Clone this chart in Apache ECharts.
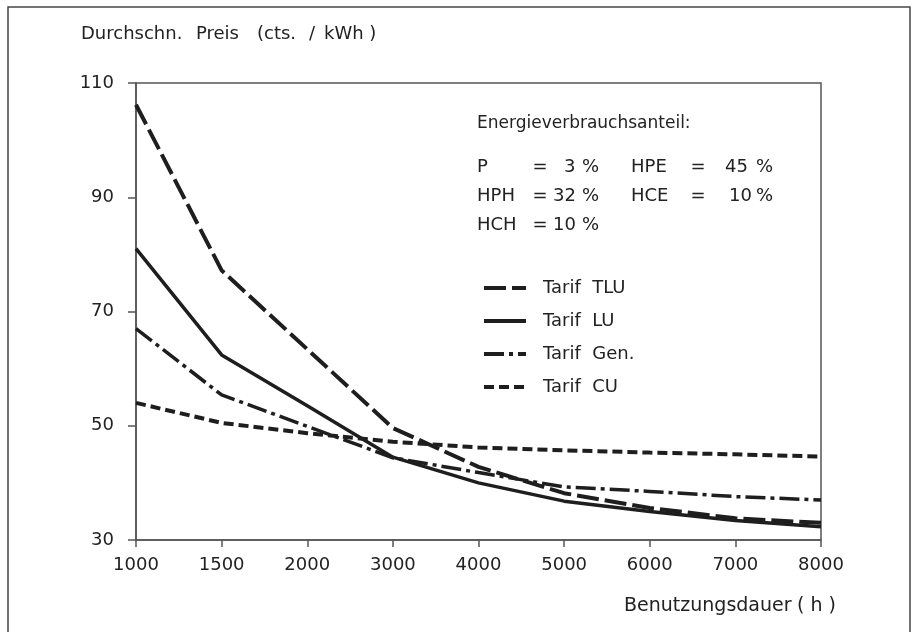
<!DOCTYPE html>
<html>
<head>
<meta charset="utf-8">
<script src="https://cdn.jsdelivr.net/npm/echarts@6/dist/echarts.min.js"></script>
<style>
  html, body { margin: 0; padding: 0; background: #fff; }
  #chart { width: 914px; height: 632px; }
</style>
</head>
<body>
<div id="chart"></div>
<script>
// Data
const categories = ['1000', '1500', '2000', '3000', '4000', '5000', '6000', '7000', '8000'];
const tarifTLU = [106.2, 77.2, 63.4, 49.6, 42.8, 38.2, 35.6, 33.8, 33.0];
const tarifLU  = [81.0, 62.4, 53.5, 44.5, 40.0, 36.8, 35.0, 33.4, 32.3];
const tarifGen = [67.0, 55.4, 49.9, 44.4, 41.8, 39.3, 38.5, 37.6, 37.0];
const tarifCU  = [54.0, 50.5, 48.7, 47.2, 46.2, 45.7, 45.3, 45.0, 44.6];
const seriesNames = ['Tarif  TLU', 'Tarif  LU', 'Tarif  Gen.', 'Tarif  CU'];
const yTicks = [30, 50, 70, 90, 110];

const FONT = 'DejaVu Sans';
const INK = '#1e1e1e';
const TXT = '#222';

const chart = echarts.init(document.getElementById('chart'), null, { renderer: 'canvas' });

function txt(x, y, text, align, size) {
  return {
    type: 'text', x: x, y: y, silent: true,
    style: { text: text, font: (size || 18) + 'px "' + FONT + '"', fill: TXT, align: align || 'left', verticalAlign: 'middle' }
  };
}

const option = {
  animation: false,
  backgroundColor: '#fff',
  color: [INK, INK, INK, INK],
  grid: { left: 136, right: 93, top: 83, bottom: 92, show: true, borderColor: '#555', borderWidth: 1.5 },
  xAxis: {
    type: 'category', data: categories, boundaryGap: false,
    axisLine: { lineStyle: { color: '#555', width: 1.5 } },
    axisTick: { show: true, length: 7, inside: false, lineStyle: { color: '#555', width: 1.5 } },
    axisLabel: { color: TXT, fontFamily: FONT, fontSize: 18, margin: 16, interval: 0 },
    splitLine: { show: false }
  },
  yAxis: {
    type: 'value', min: yTicks[0], max: yTicks[yTicks.length - 1], interval: 20,
    axisLine: { show: true, lineStyle: { color: '#555', width: 1.5 } },
    axisTick: { show: true, length: 8, lineStyle: { color: '#555', width: 1.5 } },
    axisLabel: { color: TXT, fontFamily: FONT, fontSize: 18, margin: 22 },
    splitLine: { show: false }
  },
  legend: {
    orient: 'vertical', left: 477, top: 274,
    itemWidth: 42, itemHeight: 16, itemGap: 15,
    lineStyle: { width: 4 },
    itemStyle: { opacity: 0 },
    textStyle: { color: TXT, fontFamily: FONT, fontSize: 18, padding: [0, 0, 0, 12] },
    data: seriesNames
  },
  series: [
    { name: seriesNames[0], type: 'line', data: tarifTLU, symbol: 'none', showSymbol: false,
      itemStyle: { color: INK },
      lineStyle: { color: INK, width: 4, type: [22, 6], cap: 'butt' } },
    { name: seriesNames[1], type: 'line', data: tarifLU, symbol: 'none', showSymbol: false,
      itemStyle: { color: INK },
      lineStyle: { color: INK, width: 3.5, type: 'solid' } },
    { name: seriesNames[2], type: 'line', data: tarifGen, symbol: 'none', showSymbol: false,
      itemStyle: { color: INK },
      lineStyle: { color: INK, width: 3.5, type: [20, 5, 4, 5] } },
    { name: seriesNames[3], type: 'line', data: tarifCU, symbol: 'none', showSymbol: false,
      itemStyle: { color: INK },
      lineStyle: { color: INK, width: 4, type: [10, 5] } }
  ],
  graphic: [
    { type: 'rect', shape: { x: 8, y: 7, width: 902, height: 640 }, style: { fill: 'none', stroke: '#444', lineWidth: 1.5 }, silent: true },
    // y-axis title
    txt(81, 34, 'Durchschn.'), txt(196, 34, 'Preis'), txt(257, 34, '(cts.'), txt(309, 34, '/'), txt(324, 34, 'kWh )'),
    // x-axis title
    txt(624, 606, 'Benutzungsdauer', 'left', 19), txt(797, 606, '( h )', 'left', 19),
    // annotation
    txt(477, 124, 'Energieverbrauchsanteil:', 'left', 17),
    txt(477, 167, 'P'), txt(540, 167, '=', 'center'), txt(564, 167, '3'), txt(582, 167, '%'),
    txt(631, 167, 'HPE'), txt(698, 167, '=', 'center'), txt(725, 167, '45'), txt(756, 167, '%'),
    txt(477, 196, 'HPH'), txt(540, 196, '=', 'center'), txt(553, 196, '32'), txt(582, 196, '%'),
    txt(631, 196, 'HCE'), txt(698, 196, '=', 'center'), txt(729, 196, '10'), txt(756, 196, '%'),
    txt(477, 225, 'HCH'), txt(540, 225, '=', 'center'), txt(553, 225, '10'), txt(582, 225, '%')
  ]
};
chart.setOption(option);
</script>
</body>
</html>
